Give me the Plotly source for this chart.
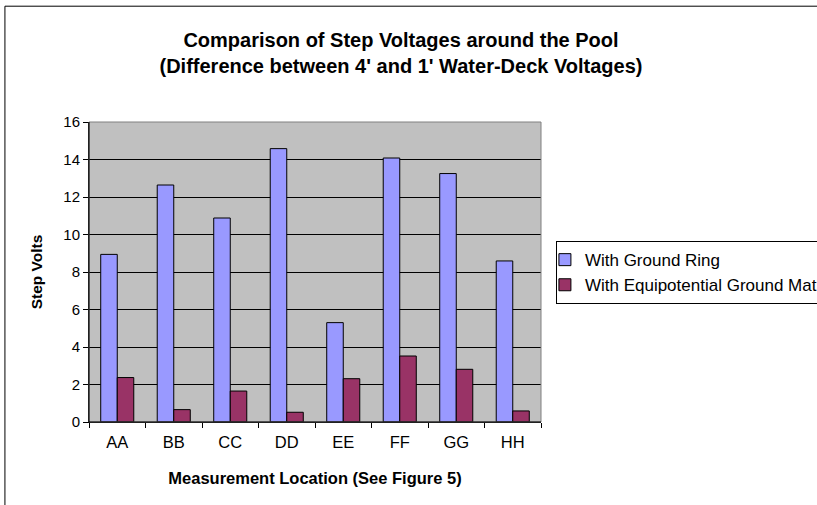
import plotly.graph_objects as go

locations = ["AA", "BB", "CC", "DD", "EE", "FF", "GG", "HH"]
ground_ring = [8.94, 12.64, 10.88, 14.58, 5.30, 14.08, 13.25, 8.59]
equip_mat = [2.37, 0.66, 1.65, 0.52, 2.31, 3.52, 2.81, 0.59]

font = "Liberation Sans, Arial, sans-serif"

fig = go.Figure()
fig.add_trace(go.Bar(x=locations, y=ground_ring, name="With Ground Ring",
                     marker=dict(color="#9999FF", line=dict(color="#000000", width=1))))
fig.add_trace(go.Bar(x=locations, y=equip_mat, name="With Equipotential Ground Mat",
                     marker=dict(color="#993366", line=dict(color="#000000", width=1))))

fig.update_layout(
    width=817, height=505,
    margin=dict(l=89, r=276, t=122, b=83, autoexpand=False),
    paper_bgcolor="white", plot_bgcolor="#C0C0C0",
    font=dict(family=font, size=14, color="black"),
    barmode="group", bargap=0.415, bargroupgap=0,
    title=dict(text="<b>Comparison of Step Voltages around the Pool<br>(Difference between 4' and 1' Water-Deck Voltages)</b>",
               x=401/817, xref="container", xanchor="center",
               y=1-47/505, yref="container", yanchor="middle",
               font=dict(size=20, family=font)),
    legend=dict(x=1.033, y=0.603, xanchor="left", yanchor="top",
                bgcolor="white", bordercolor="black", borderwidth=1,
                font=dict(size=17, family=font), tracegroupgap=0,
                itemwidth=30, indentation=-12),
    showlegend=True,
)
fig.update_xaxes(
    title=dict(text="<b>Measurement Location (See Figure 5)</b>", font=dict(size=16.5), standoff=22),
    showline=True, linecolor="black", linewidth=1,
    ticks="outside", tickson="boundaries", ticklen=5, tickcolor="black",
    tickfont=dict(size=16.5), ticklabelstandoff=5, showgrid=False,
)
fig.update_yaxes(
    title=dict(text="<b>Step Volts</b>", font=dict(size=15.5), standoff=16),
    range=[0, 16], dtick=2, showline=True, linecolor="black", linewidth=1,
    ticks="outside", ticklen=5, tickcolor="black", tickfont=dict(size=15),
    showgrid=True, gridcolor="black", gridwidth=1, zeroline=False,
)
# plot area border (gray) and outer chart frame
fig.add_shape(type="rect", xref="paper", yref="paper", x0=0, y0=0, x1=1, y1=1,
              line=dict(color="#808080", width=1), layer="above")
fig.add_shape(type="line", xref="paper", yref="paper", x0=0, y0=0, x1=0, y1=1,
              line=dict(color="black", width=1), layer="above")
fig.add_shape(type="line", xref="paper", yref="paper", x0=0, y0=0, x1=1, y1=0,
              line=dict(color="black", width=1), layer="above")
fig.add_shape(type="rect", xref="paper", yref="paper", x0=-0.186, y0=-0.3, x1=1.9, y1=1.386,
              line=dict(color="black", width=1), layer="below")

fig.write_html("out.html", config={"displayModeBar": False},
               post_script="document.body.style.margin='0px';")
